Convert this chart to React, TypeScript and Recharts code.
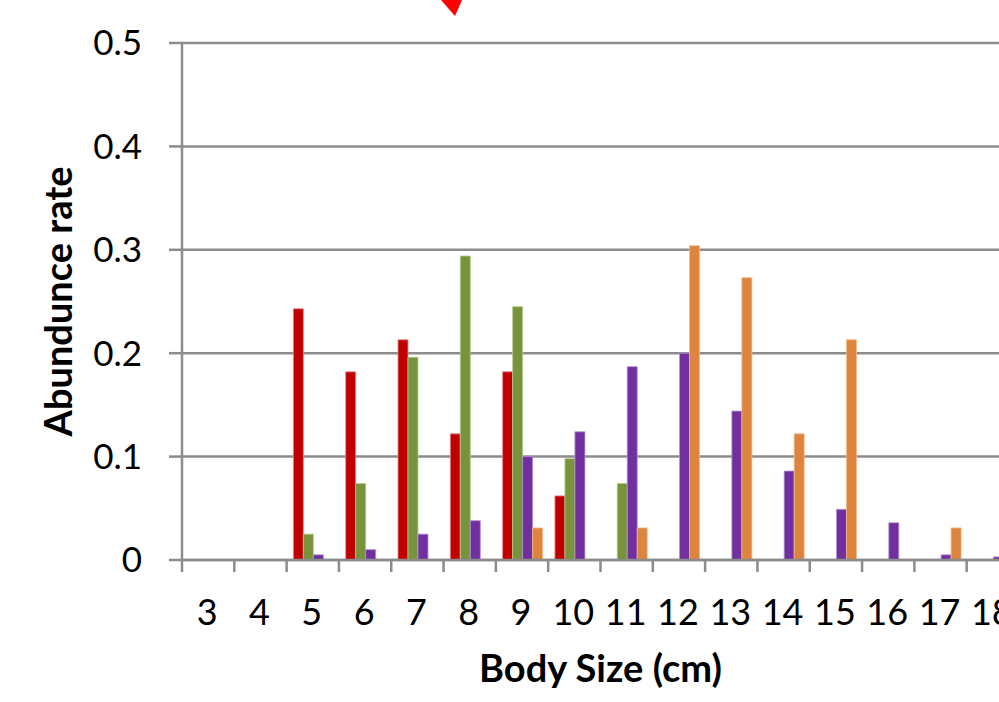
import React from 'react';
import { BarChart, Bar, XAxis, YAxis, CartesianGrid } from 'recharts';

const categories = ['3', '4', '5', '6', '7', '8', '9', '10', '11', '12', '13', '14', '15', '16', '17', '18'];
const redSeries = [0, 0, 0.243, 0.182, 0.213, 0.122, 0.182, 0.062, 0, 0, 0, 0, 0, 0, 0, 0];
const greenSeries = [0, 0, 0.025, 0.074, 0.196, 0.294, 0.245, 0.098, 0.074, 0, 0, 0, 0, 0, 0, 0];
const purpleSeries = [0, 0, 0.005, 0.01, 0.025, 0.038, 0.1, 0.124, 0.187, 0.2, 0.144, 0.086, 0.049, 0.036, 0.005, 0.003];
const orangeSeries = [0, 0, 0, 0, 0, 0, 0.031, 0, 0.031, 0.304, 0.273, 0.122, 0.213, 0, 0.031, 0];
const yTicks = [0, 0.1, 0.2, 0.3, 0.4, 0.5];

const data = categories.map((c, i) => ({
  size: c,
  red: redSeries[i],
  green: greenSeries[i],
  purple: purpleSeries[i],
  orange: orangeSeries[i],
}));

const FONT = 'Lato, "Open Sans", sans-serif';
const AXIS = '#8c8c8c';
const X_TICK_SIZE = 12;
const X_TICK_MARGIN = 27;

const XTick = (props: any) => {
  const { x, y, payload, index, visibleTicksCount } = props;
  const half = payload && typeof payload.offset === 'number' && payload.offset > 0 ? payload.offset : 26.15;
  const axisY = y - X_TICK_SIZE - X_TICK_MARGIN;
  const isLast = index === (visibleTicksCount ?? categories.length) - 1;
  return (
    <g>
      <line x1={x - half} x2={x - half} y1={axisY} y2={axisY + X_TICK_SIZE} stroke={AXIS} strokeWidth={2.5} />
      {isLast && (
        <line x1={x + half} x2={x + half} y1={axisY} y2={axisY + X_TICK_SIZE} stroke={AXIS} strokeWidth={2.5} />
      )}
      <text x={x - 1} y={y} dy="0.71em" textAnchor="middle" fontFamily={FONT} fontSize={36} fill="#000">
        {payload.value}
      </text>
    </g>
  );
};

export default function App() {
  return (
    <div style={{ position: 'absolute', left: 0, top: 0, width: 999, height: 702, overflow: 'hidden', background: '#fff' }}>
      <BarChart
        width={1030}
        height={702}
        data={data}
        margin={{ top: 43, right: 11, bottom: 0, left: 0 }}
        barCategoryGap="12.9%"
        barGap={0}
      >
        <CartesianGrid vertical={false} stroke={AXIS} strokeWidth={2.5} />
        <XAxis
          dataKey="size"
          height={142}
          stroke={AXIS}
          axisLine={{ stroke: AXIS, strokeWidth: 2.5 }}
          tickLine={false}
          tickSize={X_TICK_SIZE}
          tickMargin={X_TICK_MARGIN}
          interval={0}
          tick={<XTick />}
          label={{
            value: 'Body Size (cm)',
            position: 'insideBottom',
            offset: 20,
            style: { fontFamily: FONT, fontSize: 38, fontWeight: 700, fill: '#000' },
          }}
        />
        <YAxis
          width={182}
          domain={[0, 0.5]}
          ticks={yTicks}
          interval={0}
          axisLine={{ stroke: AXIS, strokeWidth: 2.5 }}
          tickLine={{ stroke: AXIS, strokeWidth: 2.5 }}
          tickSize={13}
          tickMargin={27}
          tick={{ fontFamily: FONT, fontSize: 35, fill: '#000' }}
          tickFormatter={(v: number) => (v === 0 ? '0' : String(v))}
          label={{
            value: 'Abundunce rate',
            angle: -90,
            position: 'insideLeft',
            offset: 59,
            style: { fontFamily: FONT, fontSize: 38, fontWeight: 700, fill: '#000', textAnchor: 'middle' },
          }}
        />
        <Bar dataKey="red" fill="#C00000" stroke="#e88a8a" strokeWidth={0.8} isAnimationActive={false} />
        <Bar dataKey="green" fill="#77933C" stroke="#b5cc8e" strokeWidth={0.8} isAnimationActive={false} />
        <Bar dataKey="purple" fill="#7030A0" stroke="#b38fd0" strokeWidth={0.8} isAnimationActive={false} />
        <Bar dataKey="orange" fill="#DD843E" stroke="#f5b88a" strokeWidth={0.8} isAnimationActive={false} />
      </BarChart>
      <svg width={999} height={30} style={{ position: 'absolute', left: 0, top: 0, pointerEvents: 'none' }}>
        <polygon points="441,0 462,0 455,16" fill="#ff0000" />
      </svg>
    </div>
  );
}
